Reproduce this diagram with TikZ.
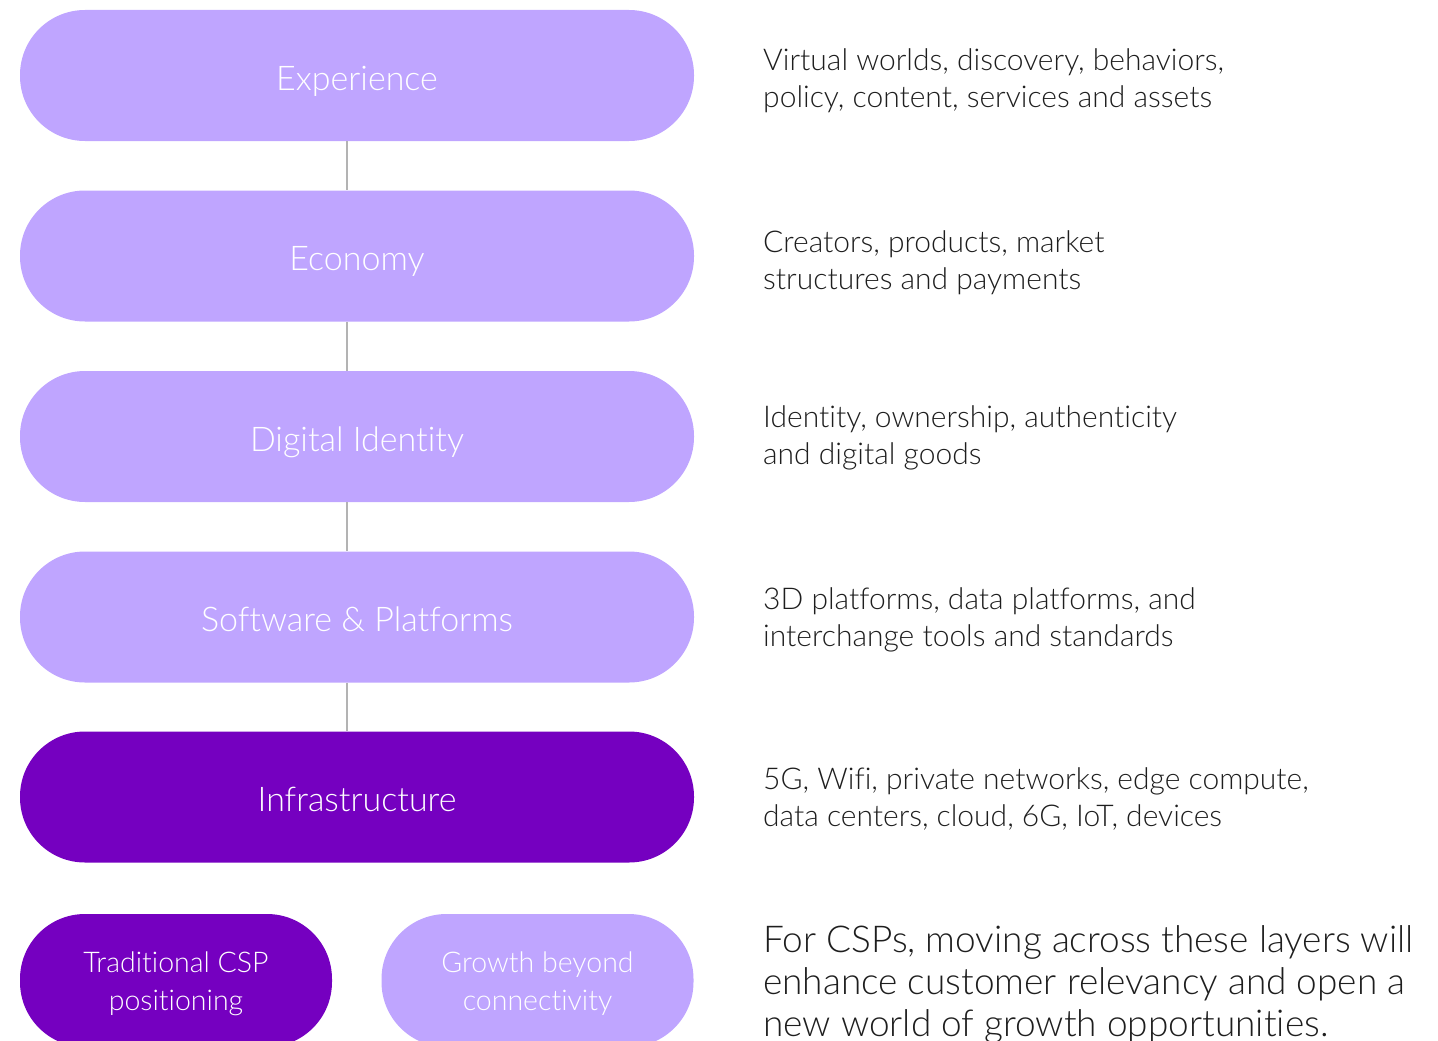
\documentclass[tikz,border=0pt]{standalone}
\usepackage{fontspec}
\setmainfont{Lato}[UprightFont={* Light}, Ligatures={NoCommon}]
\usetikzlibrary{calc}
\definecolor{lightp}{HTML}{BFA5FF}
\definecolor{darkp}{HTML}{7500C0}
\definecolor{linegray}{HTML}{B3B3B3}
\definecolor{txt}{HTML}{1E1E1E}
\newcommand{\pilltxt}[2]{\raisebox{-#1pt}[0pt][0pt]{#2}}
\newcommand{\pilltwo}[2]{\raisebox{-#1pt}[0pt][0pt]{\begin{tabular}{@{}c@{}}#2\end{tabular}}}
\tikzset{
  pill/.style={fill=lightp, draw=none, rounded corners=65pt, minimum width=674pt, minimum height=131pt, inner sep=0pt, text=white, font=\fontsize{34}{40}\selectfont},
  darkpill/.style={pill, fill=darkp},
  smallpill/.style={pill, minimum width=312pt, minimum height=133pt, font=\fontsize{28.5}{38}\selectfont},
  desc/.style={anchor=west, align=left, text=txt, inner sep=0pt, font=\fontsize{30}{37}\selectfont},
  bigdesc/.style={anchor=west, align=left, text=txt, inner sep=0pt, font=\fontsize{37}{42}\selectfont},
  conn/.style={draw=linegray, line width=2pt}
}
\begin{document}
\begin{tikzpicture}[x=1pt,y=-1pt]
\useasboundingbox (0,0) rectangle (1438,1041);
\clip (0,0) rectangle (1438,1041);
\node[pill] (exp) at (357,75.5) {\pilltxt{14.5}{Experience}};
\node[pill] (eco) at (357,256) {\pilltxt{14.5}{Economy}};
\node[pill] (did) at (357,436.5) {\pilltxt{14.5}{Digital Identity}};
\node[pill] (sw) at (357,617) {\pilltxt{14.5}{Software \& Platforms}};
\node[darkpill] (inf) at (357,797) {\pilltxt{14.5}{Infrastructure}};
\node[smallpill, fill=darkp] (trad) at (176,980.5) {\pilltwo{10}{Traditional CSP\\positioning}};
\node[smallpill] (grow) at (537.5,980.5) {\pilltwo{10}{Growth beyond\\connectivity}};
\draw[conn] ($(exp.south)+(-10,0)$) -- ($(eco.north)+(-10,0)$);
\draw[conn] ($(eco.south)+(-10,0)$) -- ($(did.north)+(-10,0)$);
\draw[conn] ($(did.south)+(-10,0)$) -- ($(sw.north)+(-10,0)$);
\draw[conn] ($(sw.south)+(-10,0)$) -- ($(inf.north)+(-10,0)$);
\node[desc] (d1) at (763,80.5) {Virtual worlds, discovery, behaviors,\\policy, content, services and assets};
\node[desc] (d2) at (763,262.5) {Creators, products, market\\structures and payments};
\node[desc] (d3) at (763,438) {Identity, ownership, authenticity\\and digital goods};
\node[desc] (d4) at (763,619.5) {3D platforms, data platforms, and\\interchange tools and standards};
\node[desc] (d5) at (763,798.5) {5G, Wifi, private networks, edge compute,\\data centers, cloud, 6G, IoT, devices};
\node[bigdesc] (d6) at (763,984) {For CSPs, moving across these layers will\\enhance customer relevancy and open a\\new world of growth opportunities.};
\end{tikzpicture}
\end{document}
